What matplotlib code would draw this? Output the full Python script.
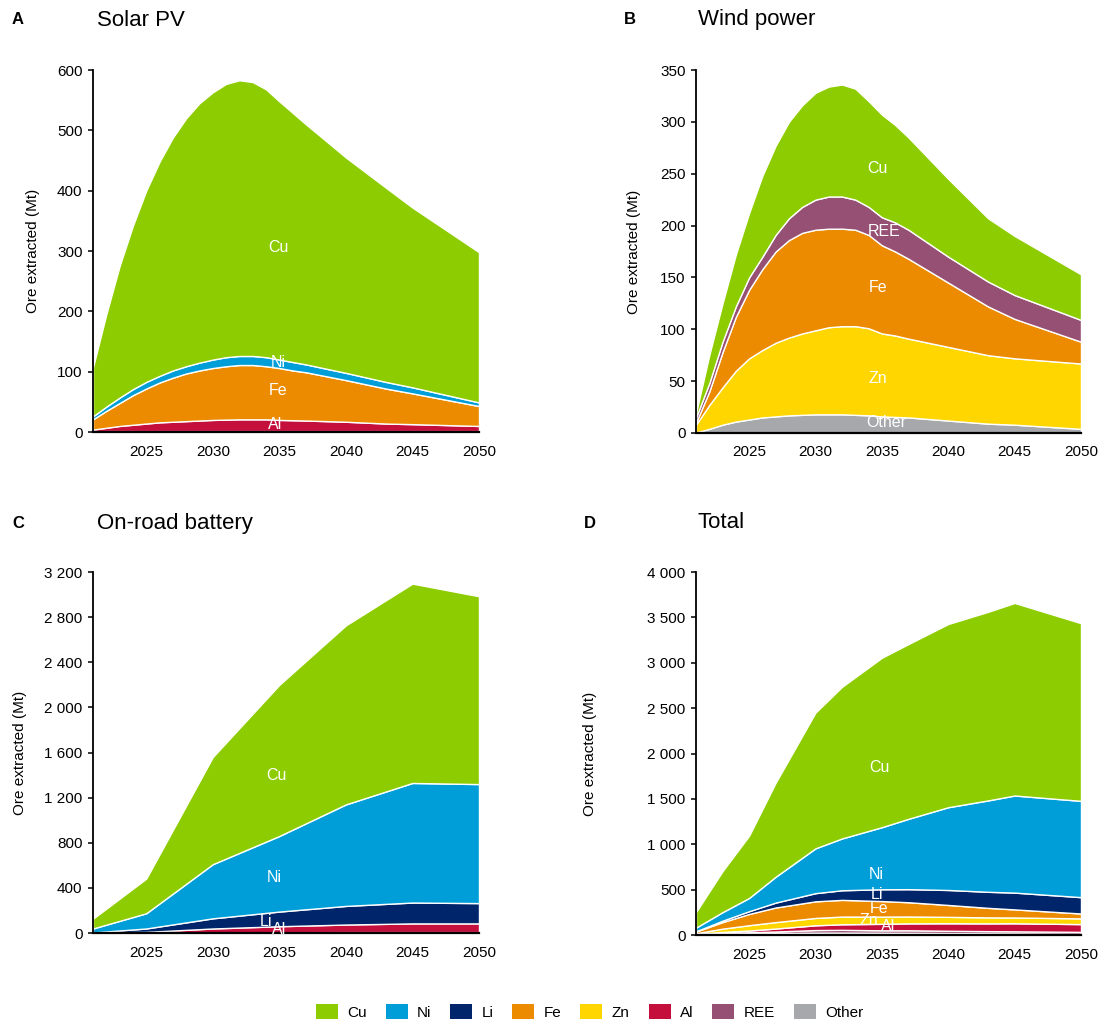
import matplotlib
matplotlib.use("Agg")
import matplotlib.pyplot as plt
from matplotlib.patches import Patch
from matplotlib.ticker import FuncFormatter

plt.rcParams['font.family'] = ['Liberation Sans', 'DejaVu Sans']

# colours per material
c_cu = "#8dcc00"
c_ni = "#009ed8"
c_li = "#00256b"
c_fe = "#ec8a00"
c_zn = "#ffd600"
c_al = "#c40e3c"
c_ree = "#955073"
c_other = "#a7a8ab"

legend_names = ["Cu", "Ni", "Li", "Fe", "Zn", "Al", "REE", "Other"]
legend_colors = [c_cu, c_ni, c_li, c_fe, c_zn, c_al, c_ree, c_other]

# years used for solar PV and wind power
years_ab = [2021, 2022, 2023, 2024, 2025, 2026, 2027, 2028, 2029, 2030, 2031,
            2032, 2033, 2034, 2035, 2036, 2037, 2040, 2043, 2045, 2050]

# A - Solar PV (Mt, layer thickness)
solar_other = [1, 1.5, 1.5, 1.5, 1.5, 1.5, 1.5, 1.5, 1.5, 1.5, 1.5,
               1.5, 1.5, 1.5, 1.5, 1.5, 1.5, 1.5, 1.5, 1.5, 1.5]
solar_al = [3, 5.5, 8.5, 10.5, 12.5, 14.5, 15.5, 16.5, 17.5, 18.5, 19,
            19.5, 19.5, 19.5, 18.5, 18, 17.5, 15.5, 12.5, 11.5, 8.5]
solar_fe = [17, 28, 38, 49, 58, 66, 73, 79, 83, 86, 88.5,
            90, 90, 88, 86, 82.5, 80, 69, 58, 51, 33]
solar_ni = [5, 7, 9, 10, 11, 11, 12, 12, 13, 14, 15,
            15, 15, 15, 14, 14, 13, 12, 11, 10, 6]
solar_cu = [81, 153, 218, 271, 317, 355, 386, 411, 430, 443, 453,
            457, 454, 444, 428, 413, 398, 357, 322, 298, 249]

# B - Wind power
wind_other = [0.5, 4, 8, 11, 13, 15, 16, 17, 17.5, 18, 18,
              18, 17.5, 17, 16, 15.5, 15, 12, 9, 8, 4]
wind_zn = [7.5, 23, 36, 49, 59, 65, 71, 75, 78.5, 81, 84,
           85, 85.5, 84, 80, 78.5, 76, 71, 66, 64, 63]
wind_fe = [2, 13, 34, 52, 66, 78, 88, 94, 97, 97, 95,
           94, 93, 90, 85, 81, 77, 62, 47, 38, 21]
wind_ree = [5, 8, 10, 10, 12, 12, 16, 21, 25, 29, 31,
            31, 29, 27, 27, 28, 28, 25, 24, 23, 21]
wind_cu = [4, 27, 37, 50, 62, 78, 86, 93, 98, 103, 106,
           108, 107, 102, 99, 94, 89, 75, 61, 57, 44]

# C - On-road battery
years_c = [2021, 2025, 2030, 2035, 2040, 2045, 2050]
battery_other = [1, 4, 6, 7, 8, 8, 8]
battery_al = [1, 6, 34, 53, 67, 77, 77]
battery_li = [3, 30, 90, 130, 165, 185, 180]
battery_ni = [35, 135, 480, 670, 900, 1060, 1055]
battery_cu = [87, 307, 950, 1340, 1587, 1767, 1665]

# D - Total
years_d = [2021, 2023, 2025, 2027, 2030, 2032, 2035, 2037, 2040, 2043, 2045, 2050]
total_other = [2.5, 12, 18.5, 22.5, 25.5, 26, 24.5, 24, 21.5, 18.5, 17.5, 13.5]
total_ree = [5, 10, 12, 16, 29, 31, 27, 28, 25, 24, 23, 21]
total_al = [4, 12, 18.5, 32.5, 52.5, 61, 71.5, 76, 82.5, 85.5, 88.5, 85.5]
total_zn = [7.5, 36, 59, 71, 81, 85, 80, 76, 71, 66, 64, 63]
total_fe = [19, 72, 124, 161, 183, 184, 171, 157, 131, 105, 89, 54]
total_li = [3, 16, 30, 54, 90, 106, 130, 144, 165, 177, 185, 180]
total_ni = [40, 94, 146, 285, 494, 571, 684, 775, 912, 1007, 1070, 1061]
total_cu = [172, 452, 686, 1036, 1496, 1671, 1867, 1926, 2019, 2078, 2122, 1958]

W, H = 1102, 1022
fig = plt.figure(figsize=(W / 100, H / 100), dpi=100)


def make_axes(left, top, right, bottom):
    return fig.add_axes([left / W, 1 - bottom / H, (right - left) / W, (bottom - top) / H])


def thousands(v, pos):
    return f"{int(v):,}".replace(",", " ")


def style(ax, ymax, ystep, label_x):
    ax.set_xlim(2021, 2050)
    ax.set_ylim(0, ymax)
    ax.set_yticks(range(0, ymax + 1, ystep))
    ax.yaxis.set_major_formatter(FuncFormatter(thousands))
    ax.set_xticks([2025, 2030, 2035, 2040, 2045, 2050])
    ax.spines["top"].set_visible(False)
    ax.spines["right"].set_visible(False)
    ax.spines["left"].set_linewidth(1.3)
    ax.spines["bottom"].set_linewidth(1.6)
    ax.tick_params(axis="y", length=3.5, width=1.1, pad=4, labelsize=11)
    ax.tick_params(axis="x", length=0, pad=9, labelsize=11)
    ax.set_ylabel("Ore extracted (Mt)", fontsize=11)
    ax.yaxis.set_label_coords(label_x, 0.5)


def labels(ax, items):
    for txt, x, y in items:
        ax.text(x, y, txt, color="white", fontsize=11.5, ha="center", va="center")


kw = dict(edgecolor="white", linewidth=1.0)

# A
axA = make_axes(93, 70, 479, 432)
axA.stackplot(years_ab, solar_other, solar_al, solar_fe, solar_ni, solar_cu,
              colors=[c_other, c_al, c_fe, c_ni, c_cu], **kw)
style(axA, 600, 100, -0.137)
labels(axA, [("Cu", 2034.9, 306), ("Ni", 2034.9, 116), ("Fe", 2034.9, 68), ("Al", 2034.7, 13)])

# B
axB = make_axes(696, 70, 1081, 433)
axB.stackplot(years_ab, wind_other, wind_zn, wind_fe, wind_ree, wind_cu,
              colors=[c_other, c_zn, c_fe, c_ree, c_cu], **kw)
style(axB, 350, 50, -0.143)
labels(axB, [("Cu", 2034.7, 255), ("REE", 2035.2, 194), ("Fe", 2034.7, 140),
             ("Zn", 2034.7, 53), ("Other", 2035.3, 10)])

# C
axC = make_axes(93, 572, 479, 933)
axC.stackplot(years_c, battery_other, battery_al, battery_li, battery_ni, battery_cu,
              colors=[c_other, c_al, c_li, c_ni, c_cu], **kw)
style(axC, 3200, 400, -0.171)
labels(axC, [("Cu", 2034.8, 1398), ("Ni", 2034.6, 496), ("Li", 2034.0, 106), ("Al", 2035.0, 35)])

# D
axD = make_axes(696, 572, 1081, 935)
axD.stackplot(years_d, total_other, total_ree, total_al, total_zn, total_fe,
              total_li, total_ni, total_cu,
              colors=[c_other, c_ree, c_al, c_zn, c_fe, c_li, c_ni, c_cu], **kw)
style(axD, 4000, 500, -0.257)
labels(axD, [("Cu", 2034.8, 1842), ("Ni", 2034.6, 672), ("Li", 2034.6, 448),
             ("Fe", 2034.8, 294), ("Zn", 2034.0, 158), ("Al", 2035.5, 99)])

# panel letters and titles
for letter, lx, tx, ty, title in [("A", 18, 97, 20, "Solar PV"),
                                  ("B", 630, 698, 20, "Wind power"),
                                  ("C", 18, 97, 523, "On-road battery"),
                                  ("D", 590, 698, 523, "Total")]:
    fig.text(lx / W, 1 - ty / H, letter, fontsize=12, fontweight="bold", ha="center", va="center")
    fig.text(tx / W, 1 - ty / H, title, fontsize=16, ha="left", va="center")

handles = [Patch(facecolor=c, edgecolor="none") for c in legend_colors]
fig.legend(handles, legend_names, loc="center", bbox_to_anchor=(589.5 / W, 1 - 1012 / H),
           ncol=8, frameon=False, fontsize=11, handlelength=1.44, handleheight=1.05,
           handletextpad=0.6, columnspacing=1.25)

fig.savefig("out.png", dpi=100)
